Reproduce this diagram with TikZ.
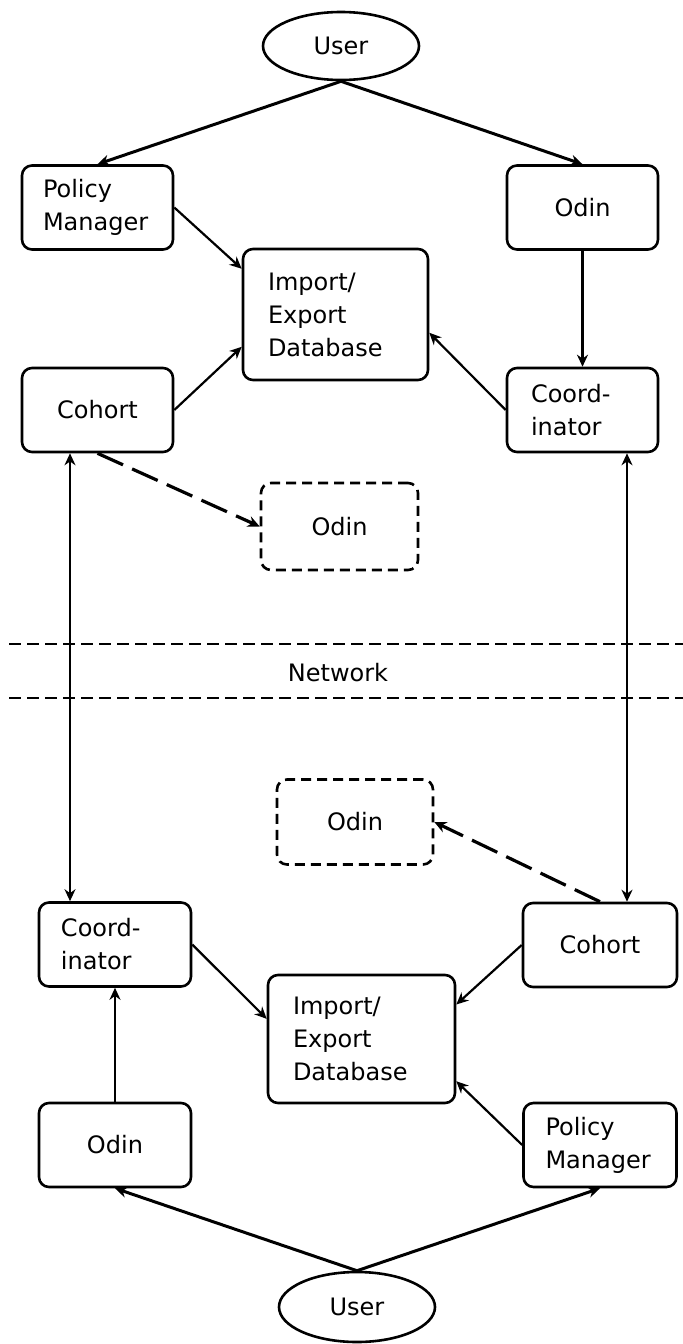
\documentclass[tikz,border=0pt]{standalone}
\usepackage{fontspec}
\setmainfont{DejaVu Sans}
\usetikzlibrary{arrows.meta,shapes.geometric}
\begin{document}
\begin{tikzpicture}[x=0.5pt,y=-0.5pt,
  every node/.style={font=\fontsize{12}{16.5}\selectfont},
  box/.style={draw,line width=1.3pt,rounded corners=5pt,inner ysep=0pt,align=center,minimum height=42pt},
  dbox/.style={box,dash pattern=on 5pt off 3pt},
  ell/.style={draw,ellipse,line width=1.3pt,inner sep=0pt,minimum width=78pt,minimum height=34pt},
  tip/.style={},
  arr/.style={line width=1.1pt,-{Stealth[length=6pt,width=5.5pt]}},
  uarr/.style={line width=1.5pt,-{Stealth[length=6pt,width=5.5pt]}},
  dbl/.style={line width=1.1pt,{Stealth[length=6pt,width=5.5pt]}-{Stealth[length=6pt,width=5.5pt]}},
  darr/.style={line width=1.6pt,dash pattern=on 14pt off 5pt,-{Stealth[length=6pt,width=5.5pt]}},
  netline/.style={line width=1.2pt,dash pattern=on 6pt off 3pt}]
\useasboundingbox (0,0) rectangle (683,1344);

% top half
\node[ell] (userT) at (341,46) {User};
\node[box,text width=54.5pt,inner xsep=10.5pt,align=left] (pmT) at (97.5,207.5) {Policy\\Manager};
\node[box,minimum width=75.5pt] (odinT) at (582.5,207.5) {Odin};
\node[box,text width=67.5pt,inner xsep=12.5pt,align=left,minimum height=65.5pt] (dbT) at (335.5,314.5) {Import/\\Export\\Database};
\node[box,minimum width=75.5pt] (cohT) at (97.5,410) {Cohort};
\node[box,text width=51.5pt,inner xsep=12pt,align=left] (coordT) at (582.5,410) {Coord-\\inator};
\node[dbox,minimum width=78.5pt,minimum height=43.5pt] (odinDT) at (339.5,526.5) {Odin};

% network
\draw[netline] (9,644) -- (683,644);
\draw[netline] (9,698) -- (683,698);
\node (net) at (338,673) {Network};

% bottom half
\node[dbox,minimum width=78pt,minimum height=42.5pt] (odinDB) at (355,822) {Odin};
\node[box,text width=54pt,inner xsep=11pt,align=left] (coordB) at (115,944.5) {Coord-\\inator};
\node[box,minimum width=77pt] (cohB) at (600,945) {Cohort};
\node[box,text width=68.5pt,inner xsep=12.5pt,align=left,minimum height=64pt] (dbB) at (361.5,1039) {Import/\\Export\\Database};
\node[box,minimum width=76pt] (odinB) at (115,1145) {Odin};
\node[box,text width=54.5pt,inner xsep=11pt,align=left] (pmB) at (600,1145) {Policy\\Manager};
\node[ell,minimum height=35pt] (userB) at (357,1307) {User};

\coordinate (lx) at (70,0);
\coordinate (rx) at (627,0);

% connectors top
\draw[uarr] (userT.south) -- (pmT.north);
\draw[uarr] (userT.south) -- (odinT.north);
\draw[arr] (pmT.east) -- (dbT.154);
\draw[arr] (cohT.east) -- (dbT.199);
\draw[arr] (coordT.west) -- (dbT.-11);
\draw[arr] (odinT.south) -- (coordT.north);
\draw[darr] (cohT.south) -- (odinDT.west);

% vertical links across the network
\draw[dbl] (cohT.south -| lx) -- (coordB.north -| lx);
\draw[dbl] (coordT.south -| rx) -- (cohB.north -| rx);

% connectors bottom
\draw[darr] (cohB.north) -- (odinDB.east);
\draw[arr] (coordB.east) -- (dbB.168);
\draw[arr] (cohB.west) -- (dbB.20);
\draw[arr] (pmB.west) -- (dbB.-24);
\draw[arr] (odinB.north) -- (coordB.south);
\draw[uarr] (userB.north) -- (odinB.south);
\draw[uarr] (userB.north) -- (pmB.south);
\end{tikzpicture}
\end{document}
